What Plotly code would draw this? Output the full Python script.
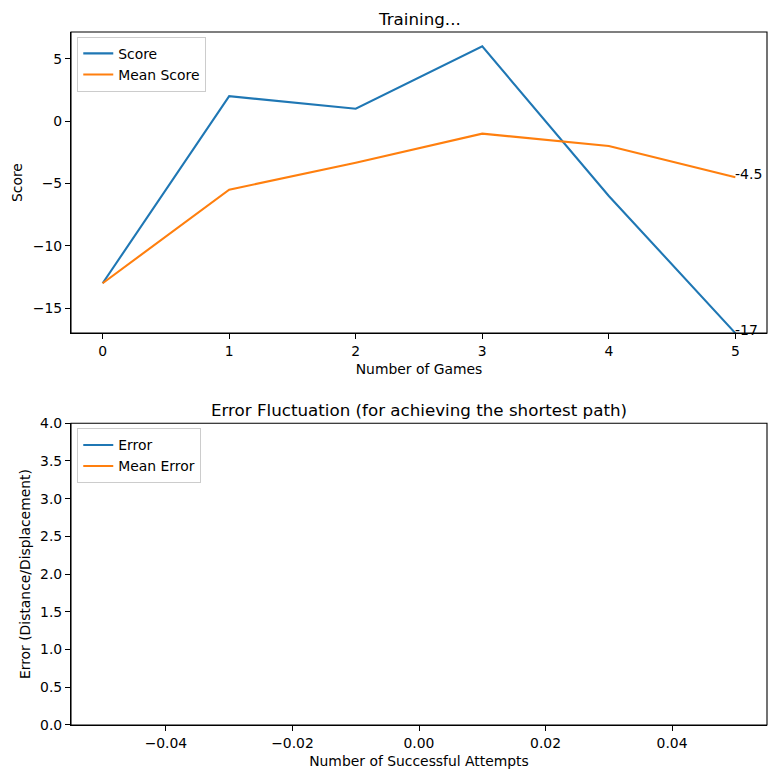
import plotly.graph_objects as go
from plotly.subplots import make_subplots

# data
scores = [-13, 2, 1, 6, -6, -17]
mean_scores = [-13, -5.5, -3.3333, -1, -2, -4.5]
errors = []
mean_errors = []

BLUE = "#1f77b4"
ORANGE = "#ff7f0e"
FONT = "DejaVu Sans, sans-serif"

fig = make_subplots(rows=2, cols=1, vertical_spacing=0.13)

games = list(range(len(scores)))
fig.add_trace(go.Scatter(x=games, y=scores, mode="lines", name="Score",
                         line=dict(color=BLUE, width=2.1), legend="legend"), row=1, col=1)
fig.add_trace(go.Scatter(x=games, y=mean_scores, mode="lines", name="Mean Score",
                         line=dict(color=ORANGE, width=2.1), legend="legend"), row=1, col=1)

att = list(range(len(errors)))
fig.add_trace(go.Scatter(x=att or [None], y=errors or [None], mode="lines", name="Error",
                         line=dict(color=BLUE, width=2.1), legend="legend2"), row=2, col=1)
fig.add_trace(go.Scatter(x=att or [None], y=mean_errors or [None], mode="lines", name="Mean Error",
                         line=dict(color=ORANGE, width=2.1), legend="legend2"), row=2, col=1)

# value labels at the last point
fig.add_annotation(x=games[-1], y=scores[-1], text=str(scores[-1]), showarrow=False,
                   xanchor="left", yanchor="bottom", yshift=-6.5, xshift=-2,
                   font=dict(size=14, color="black", family=FONT), row=1, col=1)
fig.add_annotation(x=games[-1], y=mean_scores[-1], text=str(mean_scores[-1]), showarrow=False,
                   xanchor="left", yanchor="bottom", yshift=-6.5, xshift=-2,
                   font=dict(size=14, color="black", family=FONT), row=1, col=1)

# titles
fig.add_annotation(x=0.5, y=1, xref="paper", yref="paper", text="Training...", showarrow=False,
                   xanchor="center", yanchor="bottom", yshift=1,
                   font=dict(size=16.7, color="black", family=FONT))
fig.add_annotation(x=0.5, y=0.4355, xref="paper", yref="paper",
                   text="Error Fluctuation (for achieving the shortest path)", showarrow=False,
                   xanchor="center", yanchor="bottom", yshift=1,
                   font=dict(size=16.7, color="black", family=FONT))

axis_style = dict(showline=True, linecolor="black", linewidth=1.1,
                  ticks="outside", ticklen=5, tickwidth=1.1, tickcolor="black",
                  showgrid=False, zeroline=False,
                  tickfont=dict(size=13.9, color="black", family=FONT),
                  title_font=dict(size=13.9, color="black", family=FONT))

fig.update_xaxes(**axis_style)
fig.update_yaxes(**axis_style)

fig.update_xaxes(domain=[0, 1], range=[-0.25, 5.25], dtick=1, title_text="Number of Games",
                 title_standoff=6, row=1, col=1)
fig.update_yaxes(domain=[0.5655, 1], range=[-17, 7.15], tickvals=[-15, -10, -5, 0, 5],
                 title_text="Score", title_standoff=6, row=1, col=1)
fig.update_xaxes(domain=[0, 1], range=[-0.055, 0.055], dtick=0.02, tickformat=".2f",
                 title_text="Number of Successful Attempts", title_standoff=6, row=2, col=1)
fig.update_yaxes(domain=[0, 0.4355], range=[0, 4], dtick=0.5, tickformat=".1f",
                 title_text="Error (Distance/Displacement)", title_standoff=6, row=2, col=1)

# full frame around each subplot
for xa, ya in (("x", "y"), ("x2", "y2")):
    fig.add_shape(type="rect", xref=f"{xa} domain", yref=f"{ya} domain",
                  x0=0, x1=1, y0=0, y1=1, line=dict(color="black", width=1.1),
                  fillcolor="rgba(0,0,0,0)", layer="above")

legend_style = dict(bgcolor="rgba(255,255,255,0.8)", bordercolor="#cccccc", borderwidth=1,
                    font=dict(size=13.9, color="black", family=FONT),
                    xanchor="left", yanchor="top", tracegroupgap=0)

# page body has an 8px margin, so the figure is drawn 8px smaller
fig.update_layout(
    width=768, height=770,
    paper_bgcolor="white", plot_bgcolor="white",
    margin=dict(l=61, r=9, t=24, b=53),
    font=dict(family=FONT, color="black"),
    showlegend=True,
    legend=dict(legend_style, x=0.009, y=0.993),
    legend2=dict(legend_style, x=0.009, y=0.428),
)

fig.write_html("out.html")
